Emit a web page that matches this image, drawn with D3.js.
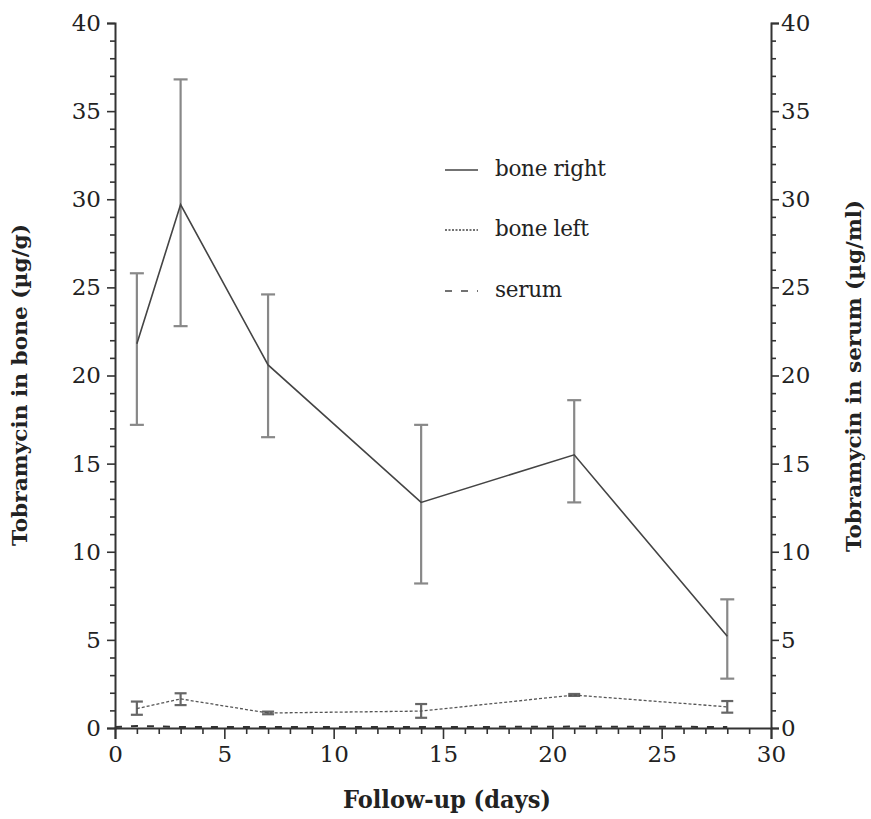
<!DOCTYPE html>
<html>
<head>
<meta charset="utf-8">
<script src="https://cdn.jsdelivr.net/npm/d3@7"></script>
<style>
  html, body { margin: 0; padding: 0; background: #fff; }
  svg { display: block; }
  text { font-family: "DejaVu Serif", "Liberation Serif", serif; fill: #222; }
</style>
</head>
<body>
<svg id="chart" width="871" height="819"></svg>
<script>
// Follow-up days
const days = [1, 3, 7, 14, 21, 28];

// Tobramycin in bone, right side (µg/g): mean, lower and upper bounds
const boneRight      = [21.8, 29.7, 20.6, 12.8, 15.5, 5.2];
const boneRightLow   = [17.2, 22.8, 16.5, 8.2, 12.8, 2.8];
const boneRightHigh  = [25.8, 36.8, 24.6, 17.2, 18.6, 7.3];

// Tobramycin in bone, left side (µg/g)
const boneLeft       = [1.1, 1.65, 0.85, 0.96, 1.87, 1.2];
const boneLeftLow    = [0.75, 1.3, 0.78, 0.58, 1.82, 0.87];
const boneLeftHigh   = [1.5, 1.97, 0.93, 1.36, 1.93, 1.53];

// Tobramycin in serum (µg/ml)
const serumDays      = [0, 1, 3, 7, 14, 21, 28];
const serum          = [0.05, 0.12, 0.06, 0.06, 0.05, 0.08, 0.06];

const xTicks = [0, 5, 10, 15, 20, 25, 30];
const yTicks = [0, 5, 10, 15, 20, 25, 30, 35, 40];

const legendLabels = ["bone right", "bone left", "serum"];

const svg = d3.select("#chart");
const plotLeft = 115, plotRight = 771, plotTop = 23, plotBottom = 728;

const x = d3.scaleLinear().domain([0, 30]).range([plotLeft, plotRight]);
const yBone = d3.scaleLinear().domain([0, 40]).range([plotBottom, plotTop]);
const ySerum = d3.scaleLinear().domain([0, 40]).range([plotBottom, plotTop]);

const ink = "#333";

// Minor ticks every unit
const minorX = d3.range(0, 31, 1).filter(v => v % 5 !== 0);
const minorY = d3.range(0, 41, 1).filter(v => v % 5 !== 0);

function addAxis(axisMinor, axisMajor, transform) {
  svg.append("g").attr("class", "minor").attr("transform", transform)
    .call(axisMinor).call(g => g.select(".domain").remove());
  return svg.append("g").attr("class", "major").attr("transform", transform).call(axisMajor);
}

// Left axis
addAxis(d3.axisLeft(yBone).tickValues(minorY).tickSize(5).tickFormat(""),
        d3.axisLeft(yBone).tickValues(yTicks).tickSize(8).tickPadding(6).tickFormat(d3.format("d")),
        `translate(${plotLeft},0)`);
// Right axis
addAxis(d3.axisRight(ySerum).tickValues(minorY).tickSize(5).tickFormat(""),
        d3.axisRight(ySerum).tickValues(yTicks).tickSize(8).tickPadding(2).tickFormat(d3.format("d")),
        `translate(${plotRight},0)`);
// Bottom axis
const gB = addAxis(d3.axisBottom(x).tickValues(minorX).tickSize(6).tickFormat(""),
        d3.axisBottom(x).tickValues(xTicks).tickSize(11).tickPadding(3).tickFormat(d3.format("d")),
        `translate(0,${plotBottom})`);

svg.selectAll(".domain").attr("stroke", ink).attr("stroke-width", 2);
svg.selectAll(".tick line").attr("stroke", ink).attr("stroke-width", 1.6);
svg.selectAll(".tick text").attr("font-size", 23).attr("font-family", "DejaVu Serif, serif").attr("fill", "#222");
gB.selectAll(".tick text").attr("dy", "0.85em");

// Axis titles
svg.append("text")
  .attr("transform", `translate(27,385) rotate(-90)`)
  .attr("text-anchor", "middle").attr("font-weight", "bold").attr("font-size", 21)
  .attr("font-family", "Liberation Serif, serif")
  .attr("textLength", 322).attr("lengthAdjust", "spacingAndGlyphs")
  .text("Tobramycin in bone (µg/g)");
svg.append("text")
  .attr("transform", `translate(861,376) rotate(-90)`)
  .attr("text-anchor", "middle").attr("font-weight", "bold").attr("font-size", 21)
  .attr("font-family", "Liberation Serif, serif")
  .attr("textLength", 352).attr("lengthAdjust", "spacingAndGlyphs")
  .text("Tobramycin in serum (µg/ml)");
svg.append("text")
  .attr("x", 447).attr("y", 808)
  .attr("text-anchor", "middle").attr("font-weight", "bold").attr("font-size", 24)
  .attr("font-family", "Liberation Serif, serif")
  .attr("textLength", 208).attr("lengthAdjust", "spacingAndGlyphs")
  .text("Follow-up (days)");

// Error bars
function errorBars(lo, hi, scaleY, color, cap) {
  const g = svg.append("g").attr("stroke", color).attr("stroke-width", 2.2).attr("fill", "none");
  days.forEach((d, i) => {
    g.append("line").attr("x1", x(d)).attr("x2", x(d)).attr("y1", scaleY(lo[i])).attr("y2", scaleY(hi[i]));
    g.append("line").attr("x1", x(d) - cap).attr("x2", x(d) + cap).attr("y1", scaleY(lo[i])).attr("y2", scaleY(lo[i]));
    g.append("line").attr("x1", x(d) - cap).attr("x2", x(d) + cap).attr("y1", scaleY(hi[i])).attr("y2", scaleY(hi[i]));
  });
}
errorBars(boneRightLow, boneRightHigh, yBone, "#888", 7);
errorBars(boneLeftLow, boneLeftHigh, yBone, "#666", 6);

// Series lines
const lineBone = d3.line().x((d, i) => x(days[i])).y(d => yBone(d));
svg.append("path").datum(boneRight).attr("d", lineBone)
  .attr("fill", "none").attr("stroke", "#444").attr("stroke-width", 1.6);
svg.append("path").datum(boneLeft).attr("d", lineBone)
  .attr("fill", "none").attr("stroke", "#555").attr("stroke-width", 1.3).attr("stroke-dasharray", "3,2");
const lineSerum = d3.line().x((d, i) => x(serumDays[i])).y(d => ySerum(d));
svg.append("path").datum(serum).attr("d", lineSerum)
  .attr("fill", "none").attr("stroke", "#333").attr("stroke-width", 2).attr("stroke-dasharray", "7,9");

// Legend
const legendDash = [null, "2,1.5", "7,9"];
const legendY = [170, 230, 291];
const lg = svg.append("g");
legendLabels.forEach((lab, i) => {
  lg.append("line").attr("x1", 445).attr("x2", 478).attr("y1", legendY[i]).attr("y2", legendY[i])
    .attr("stroke", "#444").attr("stroke-width", i === 0 ? 1.6 : 1.5)
    .attr("stroke-dasharray", legendDash[i]);
  lg.append("text").attr("x", 495).attr("y", legendY[i] + 6).attr("font-size", 21.5)
    .attr("letter-spacing", -0.3).text(lab);
});
</script>
</body>
</html>
